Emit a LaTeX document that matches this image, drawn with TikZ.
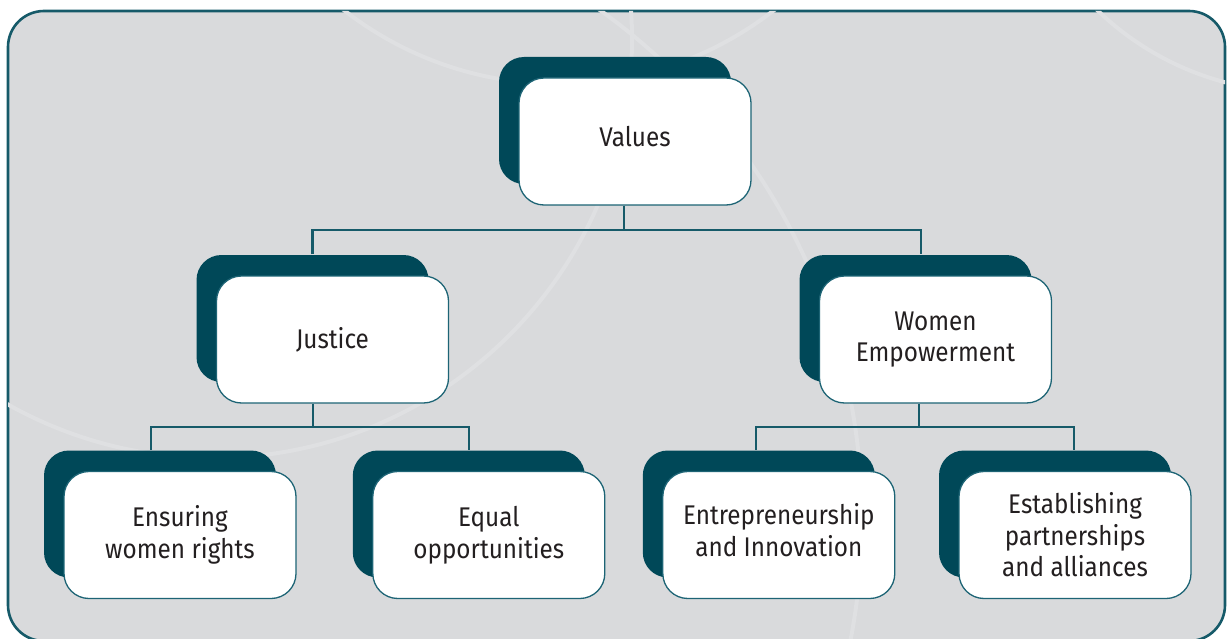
\documentclass[tikz,border=0pt]{standalone}
\usepackage{fontspec}
\setmainfont{Fira Sans}[FakeStretch=0.9]
\usetikzlibrary{shadows}
\definecolor{panel}{HTML}{D9DADC}
\definecolor{ring}{HTML}{DFE0E2}
\definecolor{frameline}{HTML}{165A69}
\definecolor{cardback}{HTML}{004858}
\definecolor{cardline}{HTML}{1D6475}
\definecolor{ink}{HTML}{231F20}
\tikzset{
  card/.style={draw=cardline, line width=1.3pt, fill=white, rounded corners=25pt, minimum width=232pt, minimum height=127pt, inner sep=0pt, align=center, text=ink, font=\fontsize{27}{31.5}\selectfont, drop shadow={shadow xshift=-20pt, shadow yshift=21pt, fill=cardback, opacity=1}},
  link/.style={draw=frameline, line width=2.2pt},
  ringline/.style={draw=ring, line width=4pt}
}
\newcommand{\lifttext}[1]{\raisebox{5pt}[\height][\depth]{#1}}
\begin{document}
\begin{tikzpicture}[x=1pt, y=-1pt]
\useasboundingbox (0,0) rectangle (1231,639);
\draw[fill=panel, draw=frameline, line width=2.6pt, rounded corners=36pt] (8,11) rectangle (1225,641);
% faint rings behind the chart
\begin{scope}
\clip[rounded corners=36pt] (8,11) rectangle (1225,641);
\draw[ringline] (213,39) circle[radius=419];
\draw[ringline] (559,-266) circle[radius=350];
\draw[ringline] (1300,-200) circle[radius=292];
\draw[ringline] (235,520) circle[radius=627];
\end{scope}
% cards
\node[card] (vals) at (635,141.5) {\lifttext{Values}};
\node[card] (jus) at (332.5,339.5) {Justice};
\node[card] (emp) at (935.5,339.5) {Women\\Empowerment};
\node[card] (ens) at (180,535) {Ensuring\\women rights};
\node[card] (eqo) at (488.8,535) {Equal\\opportunities};
\node[card] (ent) at (778.8,535) {\lifttext{Entrepreneurship}\\\lifttext{and Innovation}};
\node[card] (est) at (1075,535) {Establishing\\partnerships\\and alliances};
% links
\coordinate (top-hub) at (624,230);
\draw[link] (vals.south -| top-hub) -- (top-hub);
\draw[link] ([xshift=-20pt,yshift=21pt]jus.north) |- (top-hub) -| ([xshift=-14.5pt,yshift=21pt]emp.north);
\coordinate (jus-hub) at (313,427);
\draw[link] (jus.south -| jus-hub) -- (jus-hub);
\draw[link] ([xshift=-29pt,yshift=21pt]ens.north) |- (jus-hub) -| ([xshift=-19.5pt,yshift=21pt]eqo.north);
\coordinate (emp-hub) at (918.7,427);
\draw[link] (emp.south -| emp-hub) -- (emp-hub);
\draw[link] ([xshift=-22.8pt,yshift=21pt]ent.north) |- (emp-hub) -| ([xshift=-0.7pt,yshift=21pt]est.north);
\end{tikzpicture}
\end{document}
